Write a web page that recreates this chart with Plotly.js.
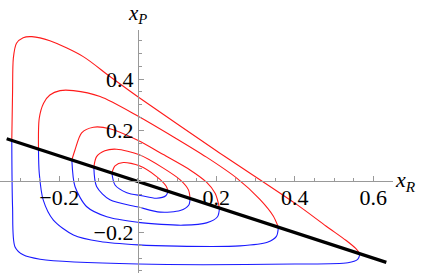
<!DOCTYPE html>
<html><head><meta charset="utf-8">
<script src="https://cdn.plot.ly/plotly-3.0.1.min.js"></script>
<style>html,body{margin:0;padding:0;background:#fff;} #chart{width:426px;height:273px;}</style>
</head><body><div id="chart"></div>
<script>
// Tick values and labels
const xTickVals = [-0.2, 0.2, 0.4, 0.6];
const xTickText = ['\u22120.2', '0.2', '0.4', '0.6'];
const yTickVals = [-0.2, 0.2, 0.4];
const yTickText = ['\u22120.2', '0.2', '0.4'];

// Separating line x_P = -x_R/2
const sepX = [-0.334, 0.633];
const sepY = [0.167, -0.3165];

// Orbit 1 (innermost)
const o1RedX = [-0.066, -0.058, -0.037, 0.004, 0.048, 0.072, 0.077];
const o1RedY = [0.033, 0.061, 0.074, 0.061, 0.019, -0.018, -0.038];
const o1BlueX = [0.077, 0.072, 0.048, 0.010, -0.028, -0.058, -0.066];
const o1BlueY = [-0.038, -0.055, -0.066, -0.056, -0.044, -0.014, 0.033];

// Orbit 2
const o2RedX = [-0.112, -0.105, -0.084, -0.054, 0.004, 0.065, 0.108, 0.129, 0.133];
const o2RedY = [0.056, 0.097, 0.120, 0.126, 0.104, 0.052, 0.006, -0.033, -0.066];
const o2BlueX = [0.133, 0.130, 0.108, 0.057, 0.001, -0.071, -0.105, -0.112];
const o2BlueY = [-0.066, -0.092, -0.114, -0.120, -0.100, -0.072, -0.020, 0.056];

// Orbit 3
const o3RedX = [-0.168, -0.160, -0.143, -0.113, -0.071, 0.001, 0.065, 0.133, 0.175, 0.197, 0.208];
const o3RedY = [0.084, 0.123, 0.190, 0.212, 0.206, 0.160, 0.105, 0.045, -0.003, -0.046, -0.104];
const o3BlueX = [0.208, 0.203, 0.175, 0.116, 0.060, 0.001, -0.079, -0.130, -0.160, -0.168];
const o3BlueY = [-0.104, -0.138, -0.162, -0.171, -0.168, -0.160, -0.138, -0.099, -0.020, 0.084];

// Orbit 4
const o4RedX = [-0.253, -0.251, -0.240, -0.224, -0.198, -0.164, -0.096, 0.001, 0.090, 0.175, 0.252, 0.311, 0.345, 0.358];
const o4RedY = [0.127, 0.247, 0.306, 0.338, 0.355, 0.355, 0.332, 0.255, 0.175, 0.095, 0.013, -0.070, -0.135, -0.179];
const o4BlueX = [0.358, 0.353, 0.330, 0.260, 0.100, 0.001, -0.096, -0.164, -0.215, -0.241, -0.251, -0.253];
const o4BlueY = [-0.179, -0.215, -0.238, -0.252, -0.253, -0.248, -0.235, -0.209, -0.151, -0.072, 0.032, 0.127];

// Orbit 5 (outermost)
const o5RedX = [-0.321, -0.319, -0.317, -0.309, -0.292, -0.270, -0.224, -0.139, -0.071, 0.001, 0.200, 0.400, 0.480, 0.530, 0.555, 0.566];
const o5RedY = [0.161, 0.350, 0.482, 0.540, 0.562, 0.566, 0.550, 0.488, 0.410, 0.330, 0.120, -0.085, -0.175, -0.230, -0.262, -0.283];
const o5BlueX = [0.566, 0.560, 0.535, 0.400, 0.001, -0.249, -0.292, -0.313, -0.319, -0.321];
const o5BlueY = [-0.283, -0.305, -0.318, -0.323, -0.323, -0.304, -0.287, -0.255, -0.100, 0.161];

const RED = '#ff1a1a';
const BLUE = '#1a1aff';

const orbits = [
  [o1RedX, o1RedY, o1BlueX, o1BlueY],
  [o2RedX, o2RedY, o2BlueX, o2BlueY],
  [o3RedX, o3RedY, o3BlueX, o3BlueY],
  [o4RedX, o4RedY, o4BlueX, o4BlueY],
  [o5RedX, o5RedY, o5BlueX, o5BlueY]
];

const traces = [];
orbits.forEach(o => {
  traces.push({x: o[0], y: o[1], mode: 'lines', line: {color: RED, width: 1.1, shape: 'spline', smoothing: 0.8}, hoverinfo: 'skip'});
  traces.push({x: o[2], y: o[3], mode: 'lines', line: {color: BLUE, width: 1.1, shape: 'spline', smoothing: 0.8}, hoverinfo: 'skip'});
});
traces.push({x: sepX, y: sepY, mode: 'lines', line: {color: '#000', width: 3.2}, hoverinfo: 'skip'});

const xRange = [-0.351, 0.650];
const yRange = [-0.358, 0.592];
const axisGray = '#999999';
const SERIF = 'Liberation Serif';
const tickFont = {family: SERIF, size: 22, color: '#000'};

const layout = {
  width: 426, height: 273,
  margin: {l: 0, r: 33, t: 30, b: 0, pad: 0},
  paper_bgcolor: '#fff', plot_bgcolor: '#fff',
  showlegend: false,
  font: {family: SERIF},
  xaxis: {
    range: xRange, domain: [0, 1], anchor: 'free',
    position: (0 - yRange[0]) / (yRange[1] - yRange[0]),
    showline: true, linecolor: axisGray, linewidth: 1,
    showgrid: false, zeroline: false,
    ticks: 'inside', ticklen: 5, tickcolor: axisGray, tickwidth: 1,
    tickmode: 'array', tickvals: xTickVals, ticktext: xTickText,
    tickfont: tickFont, ticklabelstandoff: -4,
    minor: {tick0: 0, dtick: 0.05, ticks: 'inside', ticklen: 3, tickcolor: axisGray, showgrid: false}
  },
  yaxis: {
    range: yRange, domain: [0, 1], anchor: 'free',
    position: (0 - xRange[0]) / (xRange[1] - xRange[0]),
    showline: true, linecolor: axisGray, linewidth: 1,
    showgrid: false, zeroline: false,
    ticks: 'inside', ticklen: 5, tickcolor: axisGray, tickwidth: 1,
    tickmode: 'array', tickvals: yTickVals, ticktext: yTickText,
    tickfont: tickFont,
    minor: {tick0: 0, dtick: 0.05, ticks: 'inside', ticklen: 3, tickcolor: axisGray, showgrid: false}
  },
  annotations: [
    {xref: 'x', yref: 'y', x: xRange[1], y: 0, xanchor: 'left', yanchor: 'middle', xshift: 0, yshift: 0,
     text: '<i>x</i><sub><i>R</i></sub>', showarrow: false,
     font: {family: SERIF, size: 22, color: '#000'}},
    {xref: 'x', yref: 'y', x: 0, y: yRange[1], xanchor: 'center', yanchor: 'bottom', yshift: 1,
     text: '<i>x</i><sub><i>P</i></sub>', showarrow: false,
     font: {family: SERIF, size: 21, color: '#000'}}
  ]
};

Plotly.newPlot('chart', traces, layout, {displayModeBar: false, staticPlot: true});
</script>
</body></html>
